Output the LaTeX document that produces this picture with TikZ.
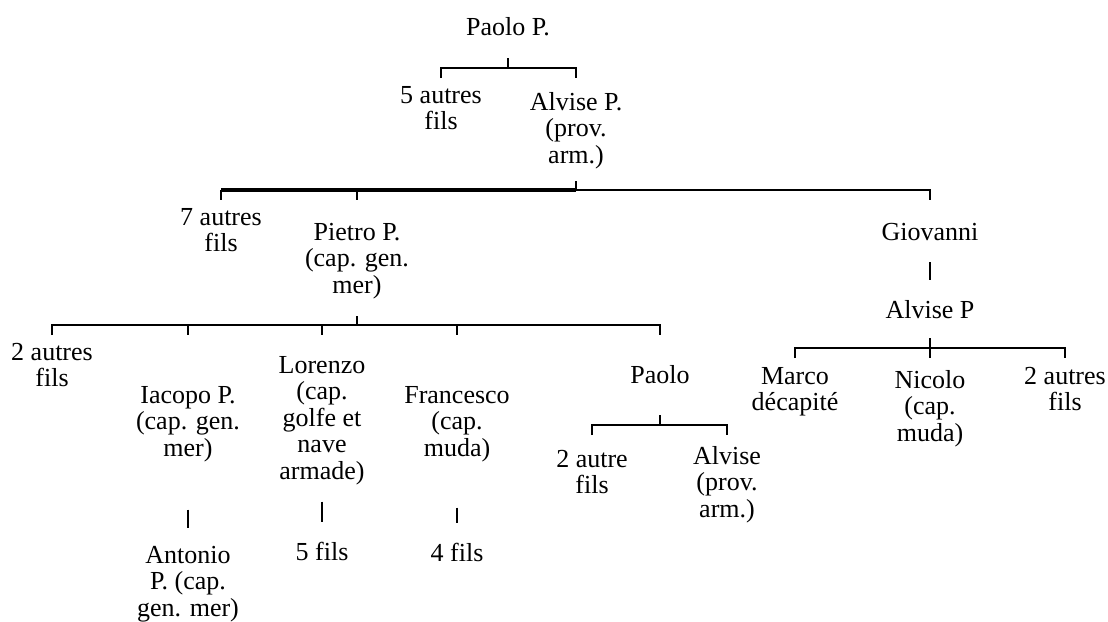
\documentclass[tikz,border=0pt]{standalone}
\usepackage{fontspec}
\setmainfont{Liberation Serif}
\begin{document}
\begin{tikzpicture}[x=1pt,y=-1pt,
  lbl/.style={inner sep=0pt, align=center, anchor=base, font=\fontsize{26}{26.5}\selectfont},
  ln/.style={line width=2.6pt, black},
  lnthick/.style={line width=3.4pt, black}]
\useasboundingbox (0,0) rectangle (1108,621);
% nodes (anchor = baseline of the last line)
\node[lbl] (pp)   at (508,35)    {Paolo P.};
\node[lbl] (a5)   at (441,129.5) {5 autres\\fils};
\node[lbl] (alv1) at (576,163)   {Alvise P.\\(prov.\\arm.)};
\node[lbl] (a7)   at (221,251.5) {7 autres\\fils};
\node[lbl] (pie)  at (357,293)   {Pietro P.\\(cap. gen.\\mer)};
\node[lbl] (gio)  at (930,240)   {Giovanni};
\node[lbl] (alvP) at (930,318)   {Alvise P};
\node[lbl] (a2)   at (52,386.5)  {2 autres\\fils};
\node[lbl] (iac)  at (188,456)   {Iacopo P.\\(cap. gen.\\mer)};
\node[lbl] (lor)  at (322,479)   {Lorenzo\\(cap.\\golfe et\\nave\\armade)};
\node[lbl] (fra)  at (457,456)   {Francesco\\(cap.\\muda)};
\node[lbl] (pao)  at (660,383)   {Paolo};
\node[lbl] (mar)  at (795,410.5) {Marco\\décapité};
\node[lbl] (nic)  at (930,441)   {Nicolo\\(cap.\\muda)};
\node[lbl] (a2r)  at (1065,410.5) {2 autres\\fils};
\node[lbl] (a2p)  at (592,493.5) {2 autre\\fils};
\node[lbl] (alv2) at (727,517)   {Alvise\\(prov.\\arm.)};
\node[lbl] (ant)  at (188,616)   {Antonio\\P. (cap.\\gen. mer)};
\node[lbl] (f5)   at (322,560)   {5 fils};
\node[lbl] (f4)   at (457,561)   {4 fils};
% bar levels
\coordinate (b1) at (0,68);
\coordinate (b2) at (0,190);
\coordinate (b3) at (0,325);
\coordinate (b4) at (0,348);
\coordinate (b5) at (0,425);
% family of Paolo P.
\draw[ln] (pp |- b1) -- ++(0,-10);
\draw[ln] (a5 |- b1) ++(0,10) -- (a5 |- b1) -- (alv1 |- b1) -- ++(0,10);
% family of Alvise P.
\draw[ln] (alv1 |- b2) -- ++(0,-9);
\draw[lnthick] (a7 |- b2) -- (alv1 |- b2);
\draw[ln] (a7 |- b2) -- ++(0,10);
\draw[ln] (alv1 |- b2) -- (gio |- b2) -- ++(0,10);
\draw[ln] (pie |- b2) -- ++(0,10);
% family of Pietro P.
\draw[ln] (pie |- b3) -- ++(0,-9);
\draw[ln] (a2 |- b3) ++(0,10) -- (a2 |- b3) -- (pao |- b3) -- ++(0,10);
\draw[ln] (iac |- b3) -- ++(0,10);
\draw[ln] (lor |- b3) -- ++(0,10);
\draw[ln] (fra |- b3) -- ++(0,10);
% Giovanni -> Alvise P
\draw[ln] ([yshift=-22pt]gio.south) -- ([yshift=20pt]alvP.north);
% family of Alvise P (right)
\draw[ln] (alvP |- b4) -- ++(0,-10);
\draw[ln] (mar |- b4) ++(0,10) -- (mar |- b4) -- (a2r |- b4) -- ++(0,10);
\draw[ln] (nic |- b4) -- ++(0,10);
% family of Paolo
\draw[ln] (pao |- b5) -- ++(0,-10);
\draw[ln] (a2p |- b5) ++(0,10) -- (a2p |- b5) -- (alv2 |- b5) -- ++(0,10);
% single descendants
\draw[ln] ([yshift=-48pt]iac.south) -- ([yshift=18pt]ant.north);
\draw[ln] ([yshift=-17pt]lor.south) -- ([yshift=20pt]f5.north);
\draw[ln] ([yshift=-46pt]fra.south) -- ([yshift=20pt]f4.north);
\end{tikzpicture}
\end{document}
